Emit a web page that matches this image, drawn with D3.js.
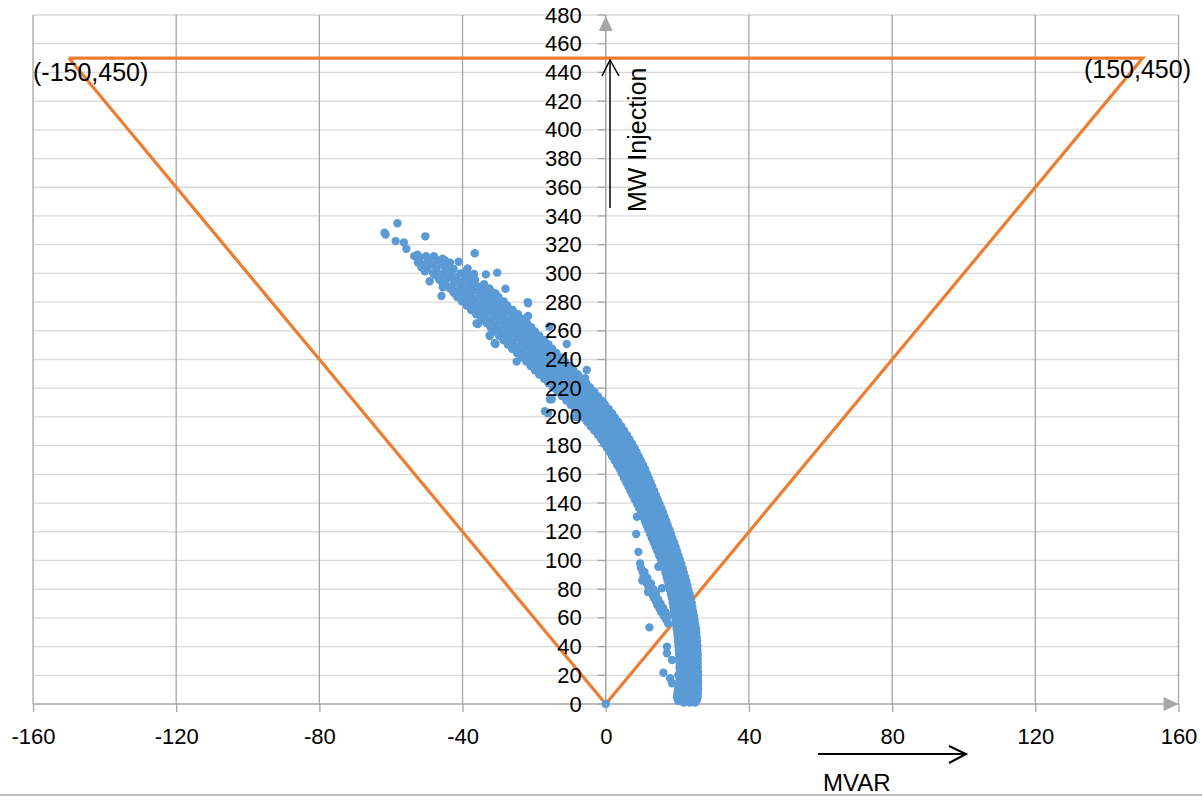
<!DOCTYPE html>
<html>
<head>
<meta charset="utf-8">
<script src="https://cdn.jsdelivr.net/npm/d3@7"></script>
<style>
  html, body { margin: 0; padding: 0; background: #ffffff; }
  svg { display: block; font-family: "Liberation Sans", Arial, sans-serif; }
</style>
</head>
<body>
<svg id="chart" width="1202" height="801"></svg>
<script>
// ---------- data ----------
const xTicks = [-160, -120, -80, -40, 0, 40, 80, 120, 160];
const yTicks = [0, 20, 40, 60, 80, 100, 120, 140, 160, 180, 200, 220, 240, 260, 280, 300, 320, 340, 360, 380, 400, 420, 440, 460, 480];

// capability boundary (MVAR, MW)
const boundary = [[-150, 450], [0, 0], [150, 450], [-150, 450]];
const cornerLabels = [
  { text: "(-150,450)", mvar: -160, mw: 450, anchor: "start" },
  { text: "(150,450)", mvar: 163.5, mw: 450, anchor: "end" }
];

// sparse points at the top of the cloud (MVAR, MW)
const upperScatter = [
  [-61.8, 328.3], [-61.5, 327], [-58.2, 334.9], [-58.7, 322.5], [-56.4, 321.6], [-55.7, 317.2],
  [-50.4, 325.8], [-52.6, 313], [-52.2, 311.6], [-49.8, 307.4], [-51.5, 304.2], [-49.2, 294.5],
  [-45.6, 310.2], [-45.9, 284.2], [-45.5, 290.3], [-41.1, 308.1], [-36.6, 314], [-38.6, 303.5],
  [-36.8, 299.6], [-33.5, 299.3], [-30.3, 300.5], [-37.3, 293.5], [-33.3, 284.2], [-30.8, 286.1],
  [-28, 289.3], [-30.3, 280.5], [-21.8, 280], [-32.4, 256.4], [-30.8, 250.8], [-35.7, 264.7],
  [-21.7, 270.3], [-18.9, 255.5], [-31, 251.3], [-24.9, 238.5], [-15.6, 212.3], [-16.1, 202.5],
  [-10.9, 250.8], [-5.3, 232.7], [-0.7, 209.9], [-21.7, 279.2], [-32.4, 257], [-36.1, 265.2],
  [-5.8, 227], [-8.3, 200], [-15.8, 263], [-7.2, 202.5], [-15.1, 212.3], [-17, 204]
];

// dense band: [MW, [MVAR values at that MW]]
const bandRows = [
  [312, [-53.5, -50.2, -48]],
  [309, [-52.1, -49.4, -46.8, -44.9]],
  [306, [-51, -48.2, -45.7]],
  [303, [-49.8, -47.3, -44.6, -42.5]],
  [300, [-48.2, -45.5, -43.1, -40.6]],
  [297, [-46.4, -44, -41.8, -39.2]],
  [294, [-44.9, -42.3, -40.1, -37.7]],
  [291, [-43, -40.6, -38.4, -35.9]],
  [288, [-41.2, -39, -36.9, -34.6]],
  [285, [-39.8, -37.6, -35.2, -33.3]],
  [282, [-38.9, -36.5, -34, -31.8]],
  [279, [-37.4, -35, -32.9, -30.6]],
  [276, [-36.1, -33.7, -31.5, -29.2]],
  [273, [-34.9, -32.4, -30.2, -27.9]],
  [270, [-33.6, -31.1, -28.8, -26.3]],
  [267, [-32, -29.5, -27.3, -25.4]],
  [264, [-30.9, -28.4, -26.1, -23.8]],
  [261, [-29.7, -27.2, -25, -22.6]],
  [258, [-28.3, -25.9, -23.8, -21.7]],
  [255, [-27.1, -24.6, -22.5, -20.3]],
  [252, [-26, -23.4, -21.2, -19.1]],
  [249, [-24.7, -22.3, -20.1, -18]],
  [246, [-23.5, -21, -18.8, -16.9]],
  [243, [-22.1, -19.8, -17.6, -15.5]],
  [240, [-20.8, -18.6, -16.3, -14.4]],
  [237, [-19.6, -17.3, -15.2, -13.1]],
  [234, [-18.3, -16, -13.9, -12]],
  [231, [-17.1, -14.8, -12.6, -10.7]],
  [228, [-15.9, -13.6, -11.5, -9.6]],
  [225, [-14.6, -12.3, -10.2, -8.4]],
  [222, [-13.3, -11.1, -9, -7.3]],
  [219, [-12.1, -9.9, -7.8, -6.1]],
  [216, [-11, -8.7, -6.7, -4.9]],
  [213, [-9.8, -7.5, -5.5, -3.8]],
  [210, [-8.6, -6.3, -4.3, -2.6]],
  [207, [-7.4, -5.2, -3.2, -1.5]],
  [204, [-6.3, -4.1, -2.1, -0.4]],
  [201, [-5.1, -3, -1, 0.7]],
  [198, [-4, -2, 0, 1.7]],
  [195, [-3, -1, 0.9, 2.6]],
  [192, [-2, 0, 1.9, 3.5]],
  [189, [-1.1, 0.9, 2.8, 4.4]],
  [186, [-0.2, 1.8, 3.7, 5.3]],
  [183, [0.7, 2.6, 4.5, 6]],
  [180, [1.5, 3.4, 5.2, 6.8]],
  [177, [2.2, 4.1, 5.9, 7.4]],
  [174, [3, 4.9, 6.6, 8.1]],
  [171, [3.7, 5.5, 7.2, 8.7]],
  [168, [4.3, 6.1, 7.8, 9.3]],
  [165, [5, 6.8, 8.4, 9.8]],
  [162, [5.6, 7.3, 9, 10.4]],
  [159, [6.2, 7.9, 9.5, 10.9]],
  [156, [6.8, 8.5, 10.1, 11.4]],
  [153, [7.4, 9.1, 10.6, 11.9]],
  [150, [8, 9.7, 11.2, 12.5]],
  [147, [8.7, 10.3, 11.8, 13]],
  [144, [9.2, 10.8, 12.3, 13.5]],
  [141, [9.8, 11.4, 12.9, 14]],
  [138, [10.4, 12, 13.4, 14.5]],
  [135, [11, 12.6, 14, 15]],
  [132, [11.5, 13, 14.4, 15.5]],
  [129, [11.9, 13.4, 14.8, 15.9]],
  [126, [12.4, 13.9, 15.3, 16.4]],
  [123, [12.9, 14.4, 15.7, 16.8]],
  [120, [13.4, 14.8, 16.1, 17.3]],
  [117, [13.9, 15.3, 16.6, 17.7]],
  [114, [14.4, 15.7, 17, 18.2]],
  [111, [14.9, 16.2, 17.5, 18.6]],
  [108, [15.4, 16.7, 17.9, 19]],
  [105, [15.9, 17.2, 18.4, 19.5]],
  [102, [16.4, 17.7, 18.9, 19.9]],
  [99, [16.9, 18.2, 19.4, 20.4]],
  [96, [17.3, 18.6, 19.8, 20.8]],
  [93, [17.7, 19, 20.2, 21.2]],
  [90, [18, 19.3, 20.5, 21.5]],
  [87, [18.3, 19.6, 20.8, 21.8]],
  [84, [18.6, 19.9, 21.1, 22.1]],
  [81, [18.9, 20.2, 21.4, 22.4]],
  [78, [19.2, 20.5, 21.7, 22.7]],
  [75, [19.4, 20.7, 21.9, 23]],
  [72, [19.6, 20.9, 22.1, 23.2]],
  [69, [19.7, 21.1, 22.3, 23.4]],
  [66, [19.9, 21.3, 22.5, 23.6]],
  [63, [20.1, 21.5, 22.7, 23.8]],
  [60, [20.3, 21.7, 22.9, 24]],
  [57, [20.5, 21.9, 23.1, 24.2]],
  [54, [20.7, 22.1, 23.3, 24.4]],
  [51, [20.9, 22.3, 23.5, 24.6]],
  [48, [21.1, 22.5, 23.7, 24.7]],
  [45, [21.3, 22.6, 23.8, 24.9]],
  [42, [21.4, 22.7, 23.9, 25]],
  [39, [21.5, 22.8, 24, 25.1]],
  [36, [21.6, 22.9, 24.1, 25.2]],
  [33, [21.7, 23, 24.2, 25.2]],
  [30, [21.8, 23.1, 24.3, 25.3]],
  [27, [21.9, 23.1, 24.3, 25.3]],
  [24, [21.9, 23.2, 24.4, 25.4]],
  [21, [22, 23.2, 24.4, 25.4]],
  [18, [22, 23.3, 24.5, 25.5]],
  [15, [22, 23.3, 24.5, 25.5]],
  [12, [21.8, 23.2, 24.5, 25.6]],
  [9, [21.5, 23, 24.4, 25.6]],
  [6, [21.2, 22.8, 24.3, 25.6]],
  [3, [21, 22.5, 24, 25.5]],
  [1, [21.8, 23.5, 25]]
];

// band edge points, read between the rows above: [MW, [left MVAR, right MVAR]]
const bandEdgeRows = [
  [307.5, [-52.5, -43.5]], [301.5, [-50.5, -39]], [298.5, [-47.5, -37.5]], [295.5, [-46.5, -36.5]],
  [292.5, [-45.5, -34]], [289.5, [-43.5, -32.5]], [286.5, [-42.5, -31.5]], [283.5, [-41.5, -30]],
  [280.5, [-40.2, -28.5]], [277.5, [-38.8, -27.5]], [274.5, [-37.6, -26]], [271.5, [-36.2, -24.5]],
  [268.5, [-34.8, -23.5]], [265.5, [-33.4, -22]], [262.5, [-32.2, -20.8]], [259.5, [-31, -19.8]],
  [256.5, [-29.8, -18.6]], [253.5, [-28.6, -17.2]], [250.5, [-27.4, -16]], [247.5, [-26.2, -15]],
  [244.5, [-24.8, -13.8]], [241.5, [-23.5, -12.5]], [238.5, [-22.2, -11.4]], [235.5, [-21, -10.2]],
  [232.5, [-19.8, -9]], [229.5, [-18.6, -7.8]], [226.5, [-17.2, -6.6]], [223.5, [-16, -5.4]],
  [220.5, [-14.8, -4.4]], [217.5, [-13.5, -3.2]], [214.5, [-12.3, -2.2]], [211.5, [-11, -1.2]],
  [208.5, [-9.8, -0.2]], [205.5, [-8.6, 0.8]], [202.5, [-7.4, 1.8]], [199.5, [-6.2, 2.6]],
  [196.5, [-5.2, 3.5]], [193.5, [-4.2, 4.3]], [190.5, [-3.2, 5.1]], [187.5, [-2.2, 5.9]],
  [184.5, [-1.3, 6.6]], [181.5, [-0.5, 7.3]], [178.5, [0.3, 8]], [175.5, [1.1, 8.6]],
  [172.5, [1.8, 9.2]], [169.5, [2.5, 9.8]], [166.5, [3.2, 10.4]], [163.5, [3.9, 11]],
  [160.5, [4.5, 11.5]], [157.5, [5.1, 12]], [154.5, [5.7, 12.5]], [151.5, [6.3, 13]],
  [148.5, [6.9, 13.5]], [145.5, [7.5, 14]], [142.5, [8.1, 14.5]], [139.5, [8.7, 15]],
  [136.5, [9.3, 15.5]], [133.5, [9.9, 16]], [130.5, [10.4, 16.4]], [127.5, [10.9, 16.9]],
  [124.5, [11.4, 17.3]], [121.5, [11.9, 17.8]], [118.5, [12.4, 18.2]], [115.5, [12.9, 18.6]],
  [112.5, [13.4, 19.1]], [109.5, [13.9, 19.5]], [106.5, [14.4, 19.9]], [103.5, [14.9, 20.3]],
  [100.5, [15.4, 20.7]], [97.5, [15.9, 21.1]], [94.5, [16.3, 21.5]], [91.5, [16.7, 21.8]],
  [88.5, [17, 22.2]], [85.5, [17.3, 22.5]], [82.5, [17.6, 22.8]], [79.5, [17.9, 23.1]],
  [76.5, [18.2, 23.4]], [73.5, [18.5, 23.7]], [70.5, [18.7, 24]], [67.5, [18.9, 24.2]],
  [64.5, [19.1, 24.4]], [61.5, [19.3, 24.6]], [58.5, [19.5, 24.8]], [55.5, [19.6, 25]],
  [52.5, [19.8, 25.2]], [49.5, [20, 25.3]], [46.5, [20.1, 25.4]], [43.5, [20.2, 25.5]],
  [40.5, [20.3, 25.6]], [37.5, [20.4, 25.6]], [34.5, [20.5, 25.7]], [31.5, [20.5, 25.7]],
  [28.5, [20.6, 25.7]], [25.5, [20.6, 25.7]], [22.5, [20.7, 25.8]], [19.5, [20.7, 25.8]],
  [16.5, [20.6, 25.8]], [13.5, [20.4, 25.8]], [10.5, [20.2, 25.8]], [7.5, [20, 25.7]],
  [4.5, [19.9, 25.6]], [2, [20.3, 25.2]]
];

// secondary branch and stragglers near the bottom (MVAR, MW)
const lowerBranch = [
  [9.1, 106], [9.6, 98], [9.8, 95], [10.3, 92], [10.6, 89], [11, 86], [11.5, 84], [12, 81],
  [12.5, 79], [13, 76.5], [13.4, 74], [13.9, 72], [14.4, 69], [15, 66.5], [15.5, 64], [16.2, 61.5],
  [16.8, 59], [17.4, 56], [12.2, 53.4], [17.1, 39.9], [17.1, 35.3], [18.5, 30.7], [16.1, 21.8],
  [18, 17.9], [20.3, 20.2], [18.5, 14.4], [21.3, 7.5], [14.7, 95.6], [15.7, 80.6], [8.7, 130.5],
  [8.5, 118.4], [10.2, 86], [11.8, 78], [10.8, 92], [11.6, 88], [12.6, 84], [13.3, 80], [14, 77],
  [14.6, 73], [15.3, 70], [16, 67], [16.7, 64], [17.3, 61], [0, 0]
];

// ---------- drawing ----------
const W = 1202, H = 801;
const svg = d3.select("#chart");
const x = d3.scaleLinear().domain([-160, 160]).range([33, 1178.5]);
const y = d3.scaleLinear().domain([0, 480]).range([704, 15]);
const FONT = "'Liberation Sans', Arial, sans-serif";

const points = upperScatter
  .concat(bandRows.flatMap(([mw, list]) => list.map(v => [v, mw])))
  .concat(bandEdgeRows.flatMap(([mw, list]) => list.map(v => [v, mw])))
  .concat(lowerBranch);

// bottom frame line
svg.append("line").attr("x1", 0).attr("x2", W).attr("y1", 795).attr("y2", 795)
  .attr("stroke", "#a6a6a6").attr("stroke-width", 1.3);

// horizontal gridlines
svg.append("g").selectAll("line").data(yTicks.filter(d => d > 0)).join("line")
  .attr("x1", x(-160)).attr("x2", x(160))
  .attr("y1", d => y(d)).attr("y2", d => y(d))
  .attr("stroke", "#d9d9d9").attr("stroke-width", 1.3);

// vertical gridlines
svg.append("g").selectAll("line").data(xTicks.filter(d => d !== 0)).join("line")
  .attr("x1", d => x(d)).attr("x2", d => x(d))
  .attr("y1", y(480)).attr("y2", y(0))
  .attr("stroke", "#a6a6a6").attr("stroke-width", 1.3);

// axis lines with arrowheads
svg.append("line").attr("x1", x(-160)).attr("x2", x(160)).attr("y1", y(0)).attr("y2", y(0))
  .attr("stroke", "#a6a6a6").attr("stroke-width", 1.5);
svg.append("line").attr("x1", x(0)).attr("x2", x(0)).attr("y1", y(0)).attr("y2", y(480))
  .attr("stroke", "#a6a6a6").attr("stroke-width", 1.5);
const xe = x(160), ye = y(0);
svg.append("path").attr("d", `M${xe},${ye} L${xe - 15},${ye - 7} L${xe - 15},${ye + 7} Z`).attr("fill", "#a6a6a6");
const yx = x(0), yt = y(480) + 1;
svg.append("path").attr("d", `M${yx},${yt} L${yx - 7},${yt + 15} L${yx + 7},${yt + 15} Z`).attr("fill", "#a6a6a6");

// boundary triangle
svg.append("path").datum(boundary)
  .attr("d", d3.line().x(d => x(d[0])).y(d => y(d[1])))
  .attr("fill", "none").attr("stroke", "#ed7d31").attr("stroke-width", 3.2)
  .attr("stroke-linejoin", "miter");

// scatter
svg.append("g").selectAll("circle").data(points).join("circle")
  .attr("cx", d => x(d[0])).attr("cy", d => y(d[1])).attr("r", 4.2)
  .attr("fill", "#5b9bd5");

// x axis (labels on top of the marks)
const xAxis = svg.append("g").attr("transform", `translate(0,${y(0)})`)
  .call(d3.axisBottom(x).tickValues(xTicks).tickSize(8).tickPadding(16).tickFormat(d => String(d)));
xAxis.select(".domain").remove();
xAxis.selectAll(".tick line").attr("stroke", "#a6a6a6").attr("stroke-width", 1.3);
xAxis.selectAll(".tick text").attr("fill", "#000").style("font-size", "22px").style("font-family", FONT);

// y axis (labels on top of the marks)
const yAxis = svg.append("g").attr("transform", `translate(${x(0)},0)`)
  .call(d3.axisLeft(y).tickValues(yTicks).tickSize(8).tickPadding(16).tickFormat(d => String(d)));
yAxis.select(".domain").remove();
yAxis.selectAll(".tick line").remove();
yAxis.selectAll(".tick text").attr("fill", "#000").style("font-size", "22px").style("font-family", FONT);
// y tick marks drawn beneath the scatter would be hidden anyway; draw them here for the empty parts
svg.insert("g", "path").selectAll("line").data(yTicks).join("line")
  .attr("x1", x(0) - 8).attr("x2", x(0)).attr("y1", d => y(d)).attr("y2", d => y(d))
  .attr("stroke", "#a6a6a6").attr("stroke-width", 1.3);

// corner labels
svg.append("g").selectAll("text").data(cornerLabels).join("text")
  .attr("x", d => x(d.mvar)).attr("y", d => y(d.mw) + (d.anchor === "start" ? 23 : 20))
  .attr("text-anchor", d => d.anchor)
  .style("font-size", "25px").style("font-family", FONT).attr("fill", "#000")
  .text(d => d.text);

// axis titles with arrows
svg.append("text").attr("transform", `translate(646,212) rotate(-90)`)
  .style("font-size", "25px").style("font-family", FONT).attr("fill", "#000").text("MW Injection");
svg.append("line").attr("x1", 610).attr("x2", 610).attr("y1", 208).attr("y2", 60)
  .attr("stroke", "#000").attr("stroke-width", 1.5);
svg.append("path").attr("d", "M602,76 L610,60 L619,76").attr("fill", "none")
  .attr("stroke", "#000").attr("stroke-width", 1.5);

svg.append("text").attr("x", 823).attr("y", 791)
  .style("font-size", "24px").style("font-family", FONT).attr("fill", "#000").text("MVAR");
svg.append("line").attr("x1", 818).attr("x2", 966).attr("y1", 754).attr("y2", 754)
  .attr("stroke", "#000").attr("stroke-width", 2);
svg.append("path").attr("d", "M949,746 L966,754 L949,763").attr("fill", "none")
  .attr("stroke", "#000").attr("stroke-width", 2);
</script>
</body>
</html>
